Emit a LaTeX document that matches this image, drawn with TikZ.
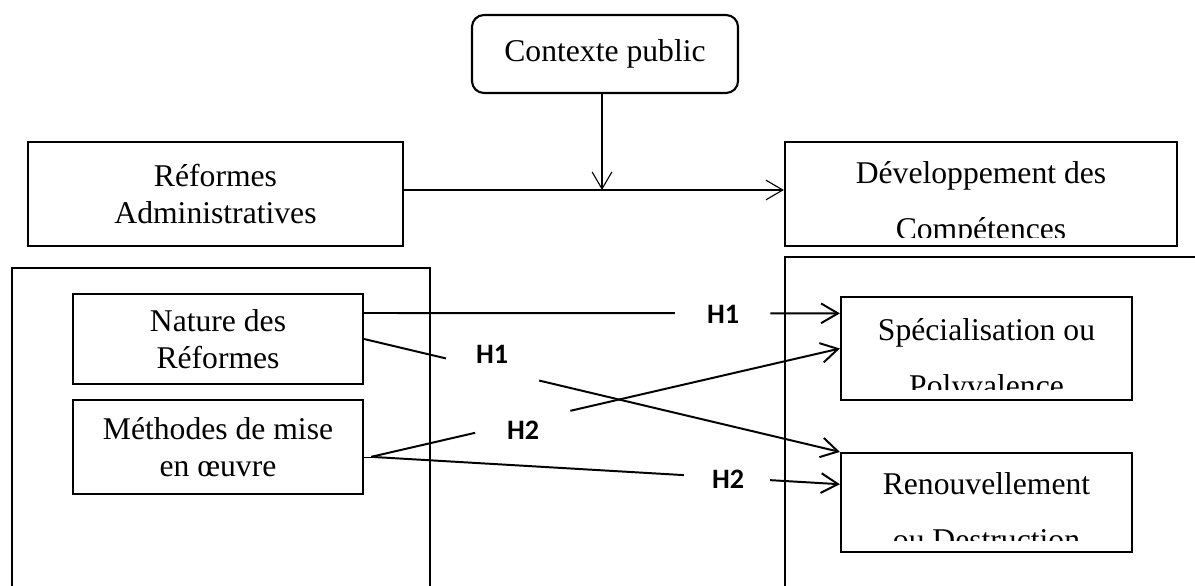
\documentclass[tikz,border=0pt]{standalone}
\usepackage{fontspec}
\setmainfont{Liberation Serif}
\newfontfamily\labfont{Carlito}
\usetikzlibrary{arrows.meta,calc}

\tikzset{
  box/.style={draw,line width=1.5pt,align=center,inner sep=0pt,font=\fontsize{22.5}{26.5}\selectfont},
  boxtxt/.style={align=center,inner sep=0pt,font=\fontsize{22.5}{40}\selectfont},
  frame/.style={line width=1.5pt},
  hyp/.style={line width=1.4pt},
  thinline/.style={line width=0.8pt},
  hlab/.style={font=\labfont\bfseries\fontsize{20}{24}\selectfont},
  >={Straight Barb[length=12pt,width=14pt]}
}

\begin{document}
\begin{tikzpicture}[x=0.025cm,y=-0.025cm]
  \useasboundingbox (0,0) rectangle (1195,585);

  % haut du schema
  \node[box,rounded corners=0.3cm,minimum width=6.65cm,minimum height=1.95cm] (ctx) at (605,54) {Contexte public};
  \node[box,minimum width=9.375cm,minimum height=2.6cm] (ref) at (215.5,194) {Réformes\\Administratives};
  \node[box,minimum width=9.8cm,minimum height=2.6cm] (dev) at (981,194) {};
  \begin{scope}
    \clip (dev.north west) rectangle ([yshift=7pt]dev.south east);
    \node[boxtxt,anchor=north] (devtxt) at (981,161) {Développement des\\Compétences};
  \end{scope}

  \coordinate (join) at (602,190);
  \draw[thinline,->] (ctx.south -| join) -- (join);
  \draw[thinline,->] (ref.east |- join) -- (dev.west |- join);

  % cadres
  \draw[frame] (12,590) |- (430,268) -- (430,590);
  \draw[frame] (785,590) |- (1200,257);

  \node[box,minimum width=7.25cm,minimum height=2.25cm] (nat) at (218,339) {Nature des\\Réformes};
  \node[box,minimum width=7.25cm,minimum height=2.35cm] (met) at (218,447) {Méthodes de mise\\en œuvre};

  \node[box,minimum width=7.275cm,minimum height=2.575cm] (spe) at (986.5,348.5) {};
  \begin{scope}
    \clip (spe.north west) rectangle ([yshift=8.5pt]spe.south east);
    \node[boxtxt,anchor=north] (spetxt) at (986.5,318) {Spécialisation ou\\Polyvalence};
  \end{scope}
  \node[box,minimum width=7.275cm,minimum height=2.475cm] (ren) at (986.5,502.5) {};
  \begin{scope}
    \clip (ren.north west) rectangle ([yshift=9pt]ren.south east);
    \node[boxtxt,anchor=north] (rentxt) at (986.5,472) {Renouvellement\\ou Destruction};
  \end{scope}

  % hypotheses
  \node[hlab] (h1a) at (723,314) {H1};
  \node[hlab] (h1b) at (492,354) {H1};
  \node[hlab] (h2a) at (523,430) {H2};
  \node[hlab] (h2b) at (728,479) {H2};

  \coordinate (n1) at ([yshift=18.5pt]nat.east);
  \coordinate (s1) at ([yshift=25pt]spe.west);
  \draw[hyp] (n1) -- ($(n1)!0.653!(s1)$);
  \draw[hyp,->] ($(n1)!0.854!(s1)$) -- (s1);

  \coordinate (n2) at (nat.east);
  \draw[hyp] (n2) -- ($(n2)!0.172!(ren.north west)$);
  \draw[hyp,->] ($(n2)!0.368!(ren.north west)$) -- (ren.north west);

  \coordinate (m1) at ([xshift=5pt,yshift=-7pt]met.east);
  \draw (met.east |- m1) -- (m1);
  \draw[hyp] (m1) -- ($(m1)!0.222!(spe.west)$);
  \draw[hyp,->] ($(m1)!0.425!(spe.west)$) -- (spe.west);

  \coordinate (r1) at ([yshift=13pt]ren.west);
  \draw[hyp] (m1) -- ($(m1)!0.667!(r1)$);
  \draw[hyp,->] ($(m1)!0.851!(r1)$) -- (r1);
\end{tikzpicture}
\end{document}
